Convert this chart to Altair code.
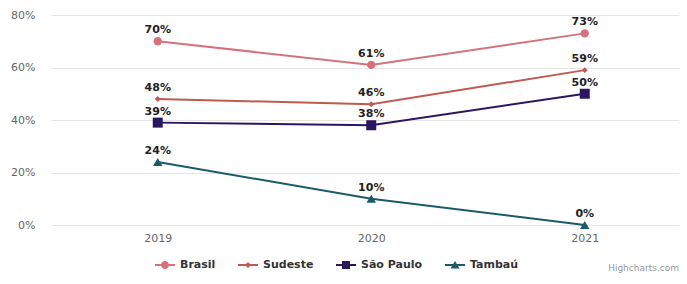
import altair as alt
import pandas as pd

years = [2019, 2020, 2021]
series = ["Brasil", "Sudeste", "São Paulo", "Tambaú"]
brasil = [0.70, 0.61, 0.73]
sudeste = [0.48, 0.46, 0.59]
sao_paulo = [0.39, 0.38, 0.50]
tambau = [0.24, 0.10, 0.00]
colors = ["#d5737d", "#c05a52", "#2b1660", "#1b5a6b"]
shapes = ["circle", "diamond", "square", "triangle-up"]
sizes = [70, 35, 100, 90]

rows = []
for name, vals in zip(series, [brasil, sudeste, sao_paulo, tambau]):
    for y, v in zip(years, vals):
        rows.append({"ano": y, "valor": v, "serie": name})
df = pd.DataFrame(rows)

bar = "M-1,-0.1L1,-0.1L1,0.1L-1,0.1Z "
legend_paths = [
    bar + "M-0.4,0A0.4,0.4 0 1,1 0.4,0A0.4,0.4 0 1,1 -0.4,0Z",
    bar + "M0,-0.3L0.3,0L0,0.3L-0.3,0Z",
    bar + "M-0.4,-0.4L0.4,-0.4L0.4,0.4L-0.4,0.4Z",
    bar + "M0,-0.4L0.45,0.35L-0.45,0.35Z",
]

plot_w = 628
step = 213.5
x_scale = alt.Scale(domain=[2018.5, 2018.5 + plot_w / step], nice=False, zero=False)
y_scale = alt.Scale(domain=[0, 0.8], nice=False)


def cscale():
    return alt.Scale(domain=series, range=colors)


x = alt.X("ano:Q", scale=x_scale, title=None,
          axis=alt.Axis(values=years, format="d", grid=False, domain=False, ticks=False,
                        labelPadding=7, labelColor="#666666", labelFontSize=11,
                        labelFont="DejaVu Sans"))
y = alt.Y("valor:Q", scale=y_scale, title=None,
          axis=alt.Axis(values=[0, 0.2, 0.4, 0.6, 0.8], format=".0%", domain=False, ticks=False,
                        labelPadding=16, labelColor="#666666", labelFontSize=11,
                        labelFont="DejaVu Sans", gridColor="#e6e6e6", gridWidth=1))

base = alt.Chart(df)

lines = base.mark_line(strokeWidth=2).encode(
    x=x, y=y,
    color=alt.Color("serie:N", scale=cscale(), legend=None),
    detail="serie:N",
)

points = base.mark_point(filled=True, opacity=1).encode(
    x=alt.X("ano:Q", scale=x_scale),
    y=alt.Y("valor:Q", scale=y_scale),
    color=alt.Color("serie:N", scale=cscale(), legend=None),
    shape=alt.Shape("serie:N", scale=alt.Scale(domain=series, range=shapes), legend=None),
    size=alt.Size("serie:N", scale=alt.Scale(type="ordinal", domain=series, range=sizes),
                  legend=None),
)

labels = base.mark_text(dy=-11, fontWeight="bold", fontSize=11, font="DejaVu Sans",
                        color="#222222").encode(
    x=alt.X("ano:Q", scale=x_scale),
    y=alt.Y("valor:Q", scale=y_scale),
    text=alt.Text("valor:Q", format=".0%"),
)

leg = alt.Legend(title=None, orient="none", legendX=104, legendY=240,
                 direction="horizontal", symbolSize=400,
                 symbolOpacity=1, symbolStrokeWidth=0,
                 labelFont="DejaVu Sans", labelFontSize=11,
                 labelFontWeight="bold", labelColor="#333333",
                 labelOffset=5, columnPadding=22)

legend_layer = base.mark_point(filled=True, opacity=0).encode(
    x=alt.X("ano:Q", scale=x_scale),
    y=alt.Y("valor:Q", scale=y_scale),
    color=alt.Color("serie:N", scale=cscale(), legend=leg),
    shape=alt.Shape("serie:N", scale=alt.Scale(domain=series, range=legend_paths), legend=leg),
)

chart = alt.layer(lines, points, labels, legend_layer).resolve_scale(
    shape="independent", size="independent", color="independent"
).properties(
    width=plot_w,
    height=210,
    autosize=alt.AutoSizeParams(type="none"),
    padding={"left": 43, "top": 7, "right": 0, "bottom": 51},
    title=alt.TitleParams(text="Highcharts.com", orient="bottom", anchor="end",
                          fontSize=9, font="DejaVu Sans", color="#999999",
                          fontWeight="normal", offset=-6),
).configure_view(stroke=None)

chart.save("out.html", embed_options={"renderer": "svg", "actions": False})
